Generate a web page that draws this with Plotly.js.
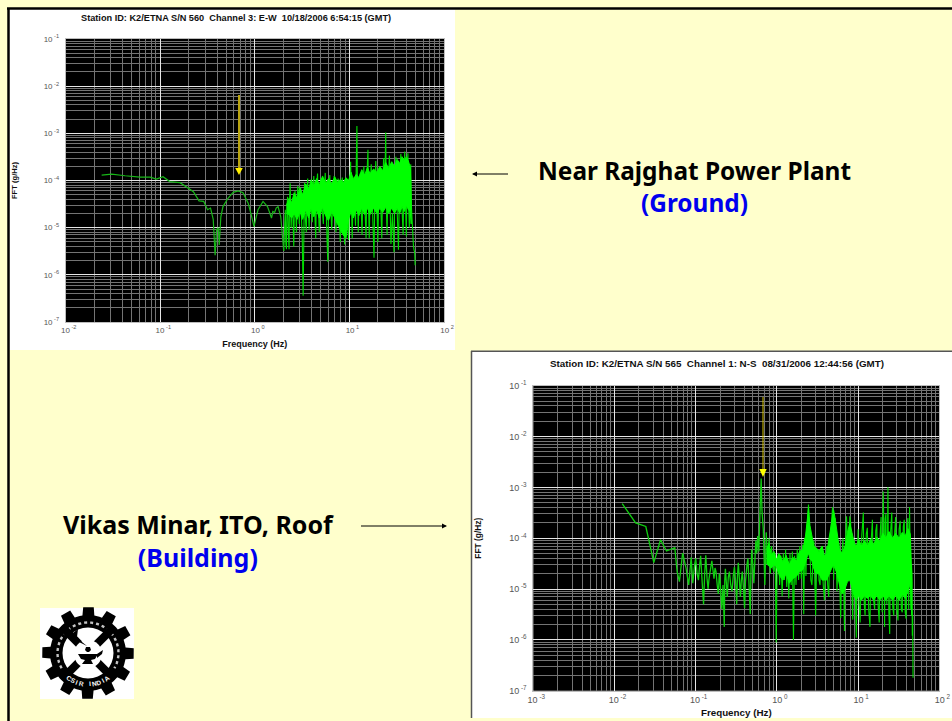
<!DOCTYPE html>
<html><head><meta charset="utf-8">
<script src="https://cdn.plot.ly/plotly-3.0.1.min.js"></script>
<style>html,body{margin:0;padding:0;background:#ffffcc;overflow:hidden}</style>
</head><body><div id="chart" style="width:952px;height:721px"></div>
<script>
// ---- Ground record (K2/ETNA S/N 560, Channel 3) ----
const groundLowFreq = [0.024,0.0306,0.0424,0.061,0.078,0.091,0.107,0.126,0.162,0.2,0.224,0.257,0.288,0.316,0.34,0.363,0.38,0.394,0.41,0.42,0.437,0.46,0.52,0.59,0.667,0.75,0.85,0.92,0.98,1.01,1.08,1.22,1.36,1.42,1.5,1.55,1.62,1.68,1.76,1.88,1.95,2.02];
const groundLowFFT  = [1.3e-4,1.36e-4,1.26e-4,1.18e-4,1.18e-4,1.07e-4,1.2e-4,9.5e-5,9e-5,6.6e-5,5.8e-5,3.7e-5,3.6e-5,2.4e-5,2.6e-5,1.5e-5,2.6e-6,9e-6,1e-5,4.3e-6,1.7e-5,2.8e-5,4.2e-5,5.6e-5,6e-5,5.5e-5,3.3e-5,1.8e-5,1.05e-5,1.4e-5,2.4e-5,3.6e-5,2.8e-5,2.2e-5,1.6e-5,2.2e-5,2.1e-5,2.6e-5,2.8e-5,1.7e-5,7.5e-6,3.2e-6];
const groundBandFreq = [2.16,2.3,2.45,2.6,2.8,3.0,3.2,3.45,3.7,3.95,4.2,4.5,4.8,5.2,5.6,6.0,6.5,7.0,7.5,8.0,8.6,9.2,9.8,10.4,11,11.8,12.6,13.5,14.5,15.5,16.5,18,19.5,21,22.5,24.2,26,28,30,32,34,36,38,40,42,44,45];
const groundBandHigh = [3e-5,4.2e-5,3.4e-5,5.5e-5,4.2e-5,7e-5,5e-5,8.5e-5,6.5e-5,1.05e-4,7.5e-5,1.1e-4,8e-5,1.25e-4,8.5e-5,1.1e-4,8.5e-5,1.2e-4,9e-5,1.05e-4,9e-5,1.15e-4,1e-4,1.5e-4,1.05e-4,1.35e-4,1.15e-4,1.7e-4,1.3e-4,1.9e-4,1.4e-4,1.75e-4,1.5e-4,2e-4,1.6e-4,2.4e-4,1.8e-4,2.5e-4,2e-4,2.8e-4,2.3e-4,3.2e-4,2.6e-4,3.2e-4,2.6e-4,1.9e-4,4e-5];
const groundBandLow  = [2e-5,1.9e-5,1.6e-5,2e-5,1.5e-5,2.2e-5,1.5e-5,2.4e-5,1.6e-5,2.6e-5,1.7e-5,2.4e-5,1.6e-5,2.7e-5,1.8e-5,1.4e-5,2.2e-5,1.6e-5,1.2e-5,9e-6,7e-6,6e-6,1.5e-5,2.2e-5,1.6e-5,2.4e-5,1.8e-5,2.6e-5,1.9e-5,2.6e-5,1.9e-5,2.6e-5,2e-5,2.6e-5,2.1e-5,2.7e-5,2e-5,2.6e-5,2e-5,2.6e-5,2e-5,2.8e-5,2.2e-5,3e-5,2.4e-5,2.2e-5,1.2e-5];
const groundSpikeFreq = [2.02,2.06,2.1,2.13,2.16,2.19,2.22,2.26,2.3,2.33,2.36,2.39,2.42,2.46,2.5,2.54,2.58,2.62,2.66,2.7,2.75,2.8,2.85,2.9,2.95,3.0,3.05,3.1,3.17,3.24,3.3,3.35,3.42,3.5,3.56,3.62,3.68,3.75,3.82,3.9,3.97,4.05,4.12,4.2,4.3,4.4,4.5,4.6,4.7,4.8,4.9,5.0,5.15,5.3,5.42,5.55,5.72,5.9,6.05,6.2,6.35,6.5,6.7,6.9,7.05,7.2,7.4,7.6,7.8,8.0,8.2,8.4,8.65,8.9,9.1,9.3,9.55,9.8,10.05,10.3,10.5,10.7,10.95,11.2,11.4,11.6,11.8,12.0,12.2,12.4,12.7,13.0,13.3,13.6,13.9,14.2,14.6,15.0,15.35,15.7,15.95,16.2,16.6,17.0,17.6,18.2,18.6,19.0,19.5,20.0,20.5,21.0,21.5,22.0,22.5,23.0,23.6,24.2,24.6,25.0,25.7,26.5,27.0,27.5,28.5,29.6,30.3,31.0,32.0,33.0,34.0,35.0,36.0,37.0,37.7,38.5,39.2,40.0,40.7,41.5,42.2,43.0,43.7,44.5,45.2,46,46.7,47.5,48.2,49,49.5,50];
const groundSpikeFFT  = [3.2e-6,1.6e-5,2.4e-5,4.5e-6,3.5e-6,3e-5,4.5e-5,8e-6,3.5e-6,4e-5,8.7e-5,3e-5,1e-5,2.4e-5,4.2e-5,1.2e-5,4e-6,3.2e-5,6e-5,2.6e-5,8e-6,4.4e-5,7.6e-5,3e-5,1.2e-5,3.4e-5,6.9e-5,2e-5,6e-6,3.6e-7,4e-5,9e-5,1.6e-5,8e-6,4.5e-5,1.1e-4,2.6e-5,9e-6,3.4e-5,7e-5,2.2e-5,1.3e-5,5e-5,1.25e-4,2.2e-5,6e-6,7e-5,1.4e-4,2.4e-5,8e-6,4.8e-5,1.1e-4,2.6e-5,1.2e-5,6e-5,1.45e-4,1.4e-5,1.9e-6,6e-5,1.3e-4,2.6e-5,9e-6,4.6e-5,1.25e-4,2.4e-5,8e-6,5e-5,1.1e-4,2.2e-5,5e-6,6e-5,1.15e-4,1.6e-5,4.4e-6,4e-5,1.1e-4,2e-5,5.5e-6,6.2e-5,2.5e-4,3e-5,6e-6,5e-5,1.2e-4,2.6e-5,1.1e-5,1.9e-4,1.43e-3,4e-5,8e-6,6e-5,1.4e-4,2.6e-5,7e-6,6e-5,2e-4,2.4e-5,6e-6,1.4e-4,4.5e-4,2.4e-5,6e-6,8e-5,2.2e-4,2e-5,2.3e-6,7e-5,2.6e-4,3e-5,5e-6,7e-5,1.9e-4,2.4e-5,6e-6,9e-5,3e-4,6e-5,1.04e-3,2.4e-5,7e-6,1e-4,3.4e-4,2.4e-5,4.5e-6,2e-5,3e-6,1.2e-4,3.2e-4,2.2e-5,3.4e-6,1.4e-4,3.7e-4,2.4e-5,7e-6,1.5e-4,4.1e-4,3e-5,6.5e-6,1.4e-4,3.8e-4,3e-5,1e-5,6e-5,2.2e-4,3e-5,1.2e-5,9e-6,4.2e-6,3.4e-6,3e-6,1.6e-6];

// ---- Building record (K2/ETNA S/N 565, Channel 1) ----
const buildingLowFreq = [0.01244,0.0155,0.0182,0.0243,0.0272,0.0305,0.0369,0.0437,0.0553,0.059,0.063,0.069,0.076,0.082,0.088,0.092,0.097,0.1,0.104,0.108,0.112,0.115,0.12,0.125,0.129,0.133,0.138,0.142,0.146,0.15,0.154,0.158,0.163,0.168,0.173,0.178,0.184,0.19,0.195,0.2,0.205,0.21,0.217,0.225,0.228,0.232,0.238,0.245,0.252,0.26,0.27,0.28,0.29,0.3,0.31,0.32,0.327,0.335,0.345,0.355,0.365,0.375,0.387,0.4,0.41,0.42,0.43,0.44,0.455,0.47,0.48,0.49,0.505,0.52,0.535,0.55,0.565,0.58,0.59,0.6,0.61,0.62,0.63,0.64,0.655,0.68,0.71,0.74];
const buildingLowFFT  = [4.8e-4,2.9e-4,2e-4,1.7e-4,7.6e-5,3.3e-5,9.3e-5,5.6e-5,6.5e-5,2.2e-5,1.4e-5,5.1e-5,2.6e-5,1.2e-5,4.2e-5,1.3e-5,3e-5,4e-5,2e-5,1.5e-5,3e-5,4.5e-5,1.4e-5,5e-6,2e-5,4.6e-5,1.6e-5,1e-5,1.6e-5,2e-5,2.8e-5,3.6e-5,2.4e-5,1.6e-5,2.6e-5,2.2e-5,1.2e-5,8e-6,2e-5,1.4e-5,7e-6,4e-6,1.2e-5,1.8e-6,1.5e-5,2.5e-5,1.4e-5,7e-6,1.7e-5,2.2e-5,1.2e-5,9e-6,1.8e-5,2.7e-5,1.4e-5,5e-6,1.8e-5,3.3e-5,1.6e-5,7e-6,1.5e-5,2.2e-5,1.1e-5,4.2e-6,1.4e-5,2.4e-5,3.2e-5,4e-5,1.2e-5,3.2e-6,2.4e-5,6e-5,3e-5,1.3e-5,3.5e-5,9e-5,5e-5,1.1e-4,8e-5,5.5e-5,1.6e-4,4e-4,8e-4,1.5e-3,3.5e-4,1.5e-4,1.2e-5,1.3e-4];
const buildingBandFreq = [0.74,0.8,0.85,0.92,0.98,1.08,1.19,1.3,1.42,1.57,1.75,1.9,2.09,2.25,2.38,2.45,2.55,2.7,2.85,3.05,3.3,3.6,3.85,4.1,4.4,4.7,4.99,5.2,5.5,5.9,6.4,6.9,7.4,7.9,8.4,9.0,9.5,10.2,11,12,13,14.2,15.5,17,18.5,20.2,22,24,26.5,29,32,35,38,41,44,46];
const buildingBandHigh = [6e-5,8e-5,4.6e-5,5.5e-5,3.8e-5,4.8e-5,3.4e-5,4.6e-5,3e-5,4.2e-5,3.6e-5,5.5e-5,6e-5,1.1e-4,2.5e-4,4e-4,1.8e-4,1e-4,7e-5,6.5e-5,5.5e-5,7e-5,4.5e-5,5e-5,1e-4,1.9e-4,3.6e-4,2.5e-4,1.3e-4,6e-5,5e-5,7e-5,1.3e-4,2e-4,1.3e-4,8e-5,7e-5,9.5e-5,7e-5,9e-5,7e-5,9.5e-5,7.5e-5,1.05e-4,8.5e-5,1.25e-4,1e-4,1.35e-4,1e-4,1.25e-4,1e-4,1.3e-4,1.1e-4,1.55e-4,1.2e-4,1.4e-5];
const buildingBandLow  = [3.2e-5,2.8e-5,2.6e-5,3e-5,2.8e-5,1.8e-5,1.5e-5,2e-5,1.3e-5,1.6e-5,1.8e-5,2.2e-5,2.4e-5,3.5e-5,4.5e-5,5e-5,4e-5,3.5e-5,2.5e-5,2e-5,2e-5,1.5e-5,1.5e-5,1.5e-5,2e-5,2.5e-5,3e-5,2.5e-5,2e-5,1.2e-5,8e-6,1e-5,1.4e-5,1.5e-5,1e-5,7e-6,6e-6,7.5e-6,6e-6,7.5e-6,6.5e-6,7.5e-6,6e-6,7.5e-6,6e-6,7.5e-6,6e-6,7.5e-6,6e-6,7.5e-6,6e-6,8e-6,6.5e-6,9e-6,1.3e-5,3e-6];
const buildingSpikeFreq = [0.74,0.77,0.8,0.83,0.86,0.89,0.92,0.95,0.98,1.01,1.05,1.08,1.12,1.16,1.2,1.24,1.28,1.32,1.36,1.4,1.45,1.5,1.55,1.6,1.65,1.72,1.78,1.85,1.92,2.0,2.08,2.14,2.2,2.28,2.35,2.45,2.55,2.62,2.7,2.78,2.85,2.92,3.0,3.1,3.2,3.3,3.4,3.5,3.6,3.72,3.85,3.98,4.1,4.22,4.35,4.48,4.6,4.72,4.85,5.0,5.1,5.2,5.35,5.5,5.65,5.8,5.95,6.1,6.3,6.5,6.65,6.8,7.0,7.2,7.45,7.7,7.9,8.1,8.35,8.6,8.8,9.0,9.25,9.5,9.75,10.0,10.3,10.6,11.1,11.6,11.9,12.2,12.6,13,13.5,14,14.5,15,15.5,16,16.5,17,17.6,18.2,18.7,19.2,19.8,20.4,20.8,21.2,21.6,22,22.6,23.3,23.9,24.5,25.2,26,26.7,27.5,28.2,29,30,31,32,33,34,35,36,37,38,39,40,41,42,43,43.8,44.5,45,45.5,46,46.5,47,47.5];
const buildingSpikeFFT  = [1.3e-4,4e-5,1e-4,2e-5,7e-5,2.6e-5,2.2e-5,5e-5,8.9e-7,4e-5,5e-5,1.2e-5,4.5e-5,7.2e-6,5e-5,1.5e-5,6e-5,1.1e-5,4e-5,6.5e-6,5e-5,1.2e-5,5.5e-5,1e-6,4.5e-5,1.2e-5,6e-5,1.5e-5,7e-5,1.6e-5,7.5e-5,3.2e-6,1e-4,1.8e-5,1.5e-4,4.6e-4,6e-5,1.5e-5,1.2e-5,5e-5,9e-5,1.8e-5,3e-6,4e-5,6e-5,1.5e-5,1.2e-5,5.5e-5,5e-5,1.2e-5,6e-6,4.5e-5,7e-5,1.2e-5,7e-6,7e-5,1.3e-4,3.2e-4,4.1e-4,1.5e-5,1.4e-4,2.5e-4,5e-5,9e-6,3e-5,8e-5,1.2e-5,2.7e-6,3.5e-5,1e-4,1.2e-5,1.5e-6,8e-5,2.7e-4,5e-5,1.8e-5,2.7e-4,2e-4,1.1e-5,2.5e-6,7e-5,9e-5,8e-6,1.1e-6,4e-5,1.5e-4,5e-6,2.2e-6,1.1e-4,3.2e-4,5e-6,3e-6,1.2e-4,1.6e-4,4e-6,1.8e-6,9e-5,2.3e-4,6e-6,4e-6,1.4e-4,1.9e-4,5e-6,2.2e-6,1.2e-4,2.6e-4,3.5e-6,8.3e-4,1.5e-4,1.8e-6,2.4e-4,3e-4,5e-6,1e-3,3.5e-6,1.3e-6,1.4e-4,3.2e-4,4.5e-6,3e-6,1.3e-4,2.6e-4,4e-6,2.4e-6,1.5e-4,2.2e-4,4e-6,3.5e-6,1.7e-4,2.3e-4,3.5e-6,2.6e-6,1.8e-4,2.5e-4,4e-6,4.1e-4,5e-5,4e-6,1.5e-5,3e-5,2e-5,1.2e-6,3e-6,1.8e-7];

// ---- Axis tick labels and text ----
const yTickVals = [1e-7,1e-6,1e-5,1e-4,1e-3,1e-2,1e-1];
const yTickText = ["10<sup> -7</sup>","10<sup> -6</sup>","10<sup> -5</sup>","10<sup> -4</sup>","10<sup> -3</sup>","10<sup> -2</sup>","10<sup> -1</sup>"];
const xTickValsGround = [0.01,0.1,1,10,100];
const xTickTextGround = ["10<sup> -2</sup>","10<sup> -1</sup>","10<sup> 0</sup>","10<sup> 1</sup>","10<sup> 2</sup>"];
const xTickValsBuilding = [0.001,0.01,0.1,1,10,100];
const xTickTextBuilding = ["10<sup> -3</sup>","10<sup> -2</sup>","10<sup> -1</sup>","10<sup> 0</sup>","10<sup> 1</sup>","10<sup> 2</sup>"];
const titleGround = "Station ID: K2/ETNA S/N 560  Channel 3: E-W  10/18/2006 6:54:15 (GMT)";
const titleBuilding = "Station ID: K2/ETNA S/N 565  Channel 1: N-S  08/31/2006 12:44:56 (GMT)";
const labelGround = 'Near Rajghat Power Plant<br><span style="color:#0000ee">(Ground)</span>';
const labelBuilding = 'Vikas Minar, ITO, Roof<br><span style="color:#0000ee">(Building)</span>';

// ---- Layout helpers: page pixels to paper fractions ----
const W = 952, H = 721;
const px = x => x / W, py = y => 1 - y / H;
const rect = (x0,y0,x1,y1,fill,line) => ({type:'rect',xref:'paper',yref:'paper',x0:px(x0),x1:px(x1),y0:py(y0),y1:py(y1),fillcolor:fill,line:line||{width:0},layer:'below'});
const seg = (x0,y0,x1,y1,color,width,layer) => ({type:'line',xref:'paper',yref:'paper',x0:px(x0),x1:px(x1),y0:py(y0),y1:py(y1),line:{color:color,width:width},layer:layer||'above'});
const circ = (cx,cy,r,fill,line) => ({type:'circle',xref:'paper',yref:'paper',x0:px(cx-r),x1:px(cx+r),y0:py(cy+r),y1:py(cy-r),fillcolor:fill,line:line||{width:0},layer:'above'});
const poly = (pts,fill) => ({type:'path',xref:'paper',yref:'paper',path:pts.map((p,i)=>(i?'L':'M')+px(p[0]).toFixed(5)+','+py(p[1]).toFixed(5)).join(' ')+' Z',fillcolor:fill,line:{width:0},layer:'above'});

const LOW='#18b818', LOW2='#10d010', SPIKE='#00dc00', BAND='#00ff00';
const lineTrace=(x,y,color,w,xa,ya,name)=>({x:x,y:y,mode:'lines',type:'scatter',line:{color:color,width:w},xaxis:xa,yaxis:ya,name:name,hoverinfo:'skip'});
const bandTrace=(f,hi,lo,xa,ya,name)=>({x:f.concat(f.slice().reverse()),y:hi.concat(lo.slice().reverse()),mode:'lines',type:'scatter',fill:'toself',fillcolor:BAND,line:{color:BAND,width:1},xaxis:xa,yaxis:ya,name:name,hoverinfo:'skip'});

const data=[
 lineTrace(groundSpikeFreq,groundSpikeFFT,SPIKE,1.1,'x','y','ground spikes'),
 bandTrace(groundBandFreq,groundBandHigh,groundBandLow,'x','y','ground band'),
 lineTrace(groundLowFreq,groundLowFFT,LOW,1.2,'x','y','ground low'),
 lineTrace(buildingSpikeFreq,buildingSpikeFFT,SPIKE,1.1,'x2','y2','building spikes'),
 bandTrace(buildingBandFreq,buildingBandHigh,buildingBandLow,'x2','y2','building band'),
 lineTrace(buildingLowFreq,buildingLowFFT,LOW2,1.3,'x2','y2','building low')
];

function minorVals(range){
  const out=[];
  for(let e=range[0];e<range[1];e++) for(let m=2;m<=9;m++) out.push(m*Math.pow(10,e));
  return out;
}
const axis=(range,dom,anchor,tv,tt,titleText,titleSize,standoff,tickSize,labelGap,labelShift)=>({type:'log',range:range,domain:dom,anchor:anchor,
  tickmode:'array',tickvals:tv,ticktext:tt,tickfont:{family:'Liberation Sans',size:tickSize,color:'#555'},ticks:'',
  ticklabelstandoff:labelGap,ticklabelshift:labelShift,
  showgrid:true,gridcolor:'#e6e6e6',gridwidth:1,zeroline:false,showline:true,linecolor:'#bdbdbd',linewidth:1,mirror:true,
  minor:{tickmode:'array',tickvals:minorVals(range),showgrid:true,gridcolor:'#747474',gridwidth:1,ticks:''},
  title:{text:titleText,standoff:standoff,font:{family:'Liberation Sans',size:titleSize,color:'#111',weight:'bold'}}});

const ann=(x,y,text,size,color,family)=>({xref:'paper',yref:'paper',x:px(x),y:py(y),text:text,showarrow:false,xanchor:'center',yanchor:'middle',font:{family:family,size:size,color:color,weight:'bold'}});
const arrow=(x0,y0,x1,y1,color,w,head)=>({xref:'paper',yref:'paper',x:px(x1),y:py(y1),ax:x0-x1,ay:y0-y1,axref:'pixel',ayref:'pixel',text:' ',showarrow:true,arrowhead:head,arrowsize:1,arrowwidth:w,arrowcolor:color});

// ---- CSIR logo (decoration) ----
const cx=88,cy=653;
const gear=[];
for(let i=0;i<12;i++){
  const a=i*Math.PI/6-Math.PI/12, d=Math.PI/6;
  [[38,0.08],[38,0.22],[46,0.3],[46,0.74],[38,0.82]].forEach(([r,f])=>{
    const t=a+f*d; gear.push([cx+r*Math.cos(t),cy+r*Math.sin(t)]);
  });
}
const ringPath=[];
for(let deg=150;deg<=390;deg+=6){const t=deg*Math.PI/180; ringPath.push((ringPath.length?'L':'M')+px(cx+30.5*Math.cos(t)).toFixed(5)+','+py(cy+30.5*Math.sin(t)).toFixed(5));}
const d=33/Math.SQRT2;
const logoShapes=[
 rect(40,608,134,699,'#ffffff'),
 poly(gear,'#000000'),
 circ(cx,cy,37,'#000000'),
 {type:'path',xref:'paper',yref:'paper',path:ringPath.join(' '),line:{color:'#c4c4c4',width:2.4,dash:'dot'},layer:'above'},
 circ(cx,cy,25.5,'#ffffff'),
 seg(cx-d,cy-d,cx+d,cy+d,'#000000',8),
 seg(cx-d,cy+d,cx+d,cy-d,'#000000',8),
 circ(cx,cy+1,14,'#ffffff'),
 poly([[cx-10,cy+1],[cx+10,cy+1],[cx+7,cy+6],[cx+3,cy+7],[cx+5,cy+11],[cx-6,cy+11],[cx-3,cy+7],[cx-7,cy+6]],'#000000'),
 poly([[cx+9,cy+1],[cx+15,cy-3],[cx+14,cy+1],[cx+9,cy+5]],'#000000'),
 poly([[cx-1,cy-1],[cx-3,cy-3],[cx-2,cy-6],[cx+2,cy-6],[cx+3,cy-3],[cx+1,cy-1]],'#000000'),
 poly([[cx-1,cy-7],[cx-9,cy-11],[cx-15,cy-20],[cx-10,cy-24],[cx-11,cy-16],[cx-6,cy-11]],'#000000')
];
const logoLetters="CSIR INDIA".split('').map((ch,i)=>{
  const deg=90+36-i*8, t=deg*Math.PI/180, r=31;
  return {xref:'paper',yref:'paper',x:px(cx+r*Math.cos(t)),y:py(cy+r*Math.sin(t)),text:ch,showarrow:false,textangle:deg-90,
    xanchor:'center',yanchor:'middle',font:{family:'Liberation Sans',size:6.5,color:'#ffffff',weight:'bold'}};
});

// yellow period markers
const markerShapes=[
 seg(239,95,239,170,'#b8a410',2),
 poly([[235.2,168],[242.8,168],[239,175]],'#ffee00'),
 seg(763,397,763,471,'#d6c400',1),
 poly([[759.3,469],[766.7,469],[763,477]],'#ffff00')
];

const layout={
 width:W,height:H,margin:{l:0,r:0,t:0,b:0},paper_bgcolor:'#ffffcc',plot_bgcolor:'#000000',showlegend:false,
 xaxis: axis([-2,2],[px(65.7),px(444)],'y',xTickValsGround,xTickTextGround,'Frequency (Hz)',9,7,8,0,3),
 yaxis: axis([-7,-1],[py(322),py(39)],'x',yTickVals,yTickText,'FFT (g/Hz)',7.6,25,8,4,0),
 xaxis2:axis([-3,2],[px(533.3),px(939.3)],'y2',xTickValsBuilding,xTickTextBuilding,'Frequency (Hz)',9.8,5,9,0,3),
 yaxis2:axis([-7,-1],[py(690.7),py(385.7)],'x2',yTickVals,yTickText,'FFT (g/Hz)',8.4,26,9,4,0),
 shapes:[
  rect(9,9,455,350,'#ffffff'),
  rect(472,352,952,718,'#ffffff'),
  rect(65.7,39,444,322,'#000000'),
  rect(533.3,385.7,939.3,690.7,'#000000'),
  seg(7,8.5,952,8.5,'#000000',2.5,'below'),
  seg(8.5,8,8.5,721,'#000000',2.5,'below'),
  seg(471,351.3,952,351.3,'#555555',1.5,'below'),
  seg(471.5,351,471.5,718,'#555555',1.5,'below')
 ].concat(logoShapes,markerShapes),
 annotations:[
  ann(236,18.5,titleGround,9.2,'#111','Liberation Sans'),
  ann(716.5,363,titleBuilding,9.8,'#111','Liberation Sans'),
  ann(694.5,186,labelGround,24.4,'#000000','Noto Sans'),
  ann(198,540,labelBuilding,25,'#000000','Noto Sans'),
  arrow(511,174,472,174,'#000000',1,2),
  arrow(358,526,447,526,'#000000',1,2)
 ].concat(logoLetters)
};
Plotly.newPlot('chart',data,layout,{displayModeBar:false,staticPlot:true});
</script></body></html>
